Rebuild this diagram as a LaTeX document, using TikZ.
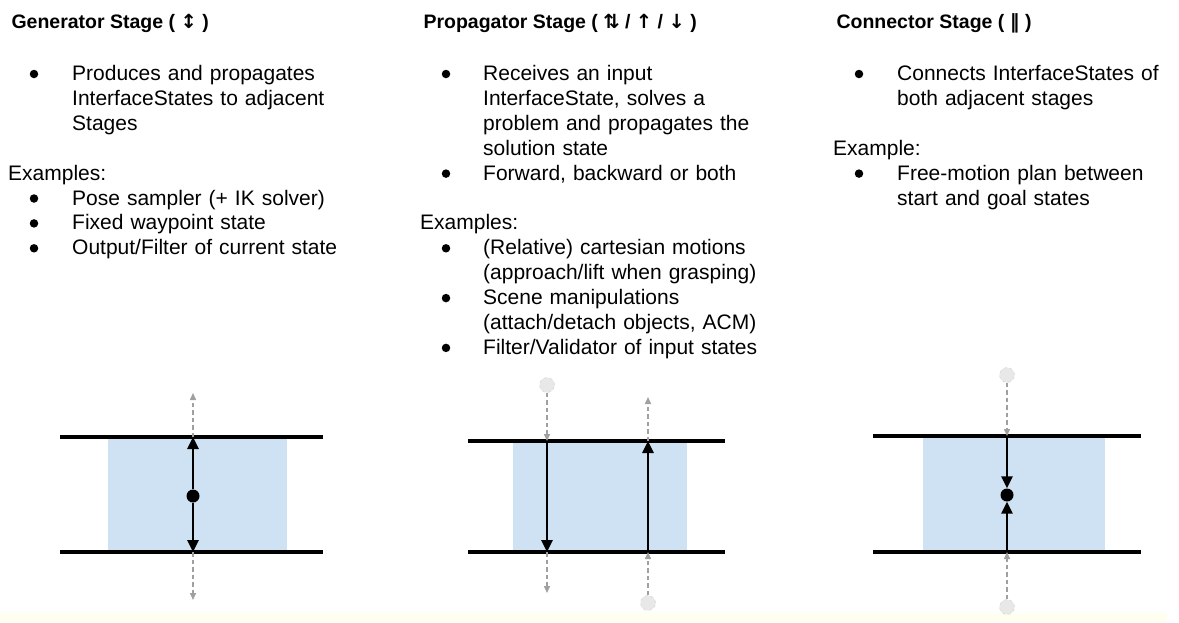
\documentclass[tikz,border=0pt]{standalone}
\usepackage{fontspec}
\setmainfont{Liberation Sans}
\newfontfamily\symfont{DejaVu Sans}
\usepackage{xcolor}
\usepackage{tikz}
\usetikzlibrary{arrows.meta,positioning}

\definecolor{stageblue}{HTML}{CFE2F3}
\definecolor{ghostgray}{HTML}{A0A0A0}
\definecolor{stripyellow}{HTML}{FFFFF0}

\tikzset{
  rail/.style={line width=3.6pt},
  flow/.style={line width=2.6pt,-{Triangle[length=12pt,width=11pt]}},
  ghost/.style={ghostgray,line width=1.5pt,dash pattern=on 4.5pt off 3pt,-{Triangle[length=7pt,width=6pt]}},
  statedot/.style={circle,fill=black,inner sep=0pt,minimum size=13pt},
  ghostdot/.style={circle,fill=black!9,draw=black!18,dashed,inner sep=0pt,minimum size=15pt},
  headline/.style={anchor=base west,font=\fontsize{19.5}{23}\selectfont\bfseries},
  body/.style={anchor=base west,align=left,text width=330pt,inner sep=0pt,font=\fontsize{21}{24.9}\selectfont},
  bul/.style={circle,fill=black,inner sep=0pt,minimum size=8.5pt},
}

\begin{document}
\begin{tikzpicture}[x=1pt,y=-1pt]
  \useasboundingbox (0,0) rectangle (1179,622);
  \fill[stripyellow] (0,613) rectangle (1167,622);

  % generator stage
  \node[headline] (gen-title) at (8,28) {Generator Stage ( {\symfont ↕} )};
  \node[bul] (gen-b1) at (34,74) {};
  \node[body] (gen-t1) at (72,80.5) {Produces and propagates\\InterfaceStates to adjacent\\Stages};
  \node[body] (gen-ex) at (8,180.1) {Examples:};
  \node[bul] (gen-b2) at (34,198.5) {};
  \node[body] (gen-t2) at (72,205) {Pose sampler (+ IK solver)};
  \node[bul] (gen-b3) at (34,223.4) {};
  \node[body] (gen-t3) at (72,229.9) {Fixed waypoint state};
  \node[bul] (gen-b4) at (34,248.3) {};
  \node[body] (gen-t4) at (72,254.8) {Output/Filter of current state};

  % propagator stage
  \node[headline] (prop-title) at (420,28) {Propagator Stage ( {\symfont ⇅} / {\symfont ↑} / {\symfont ↓} )};
  \node[bul] (prop-b1) at (446,74) {};
  \node[body] (prop-t1) at (483,80.5) {Receives an input\\InterfaceState, solves a\\problem and propagates the\\solution state};
  \node[bul] (prop-b2) at (446,173.6) {};
  \node[body] (prop-t2) at (483,180.1) {Forward, backward or both};
  \node[body] (prop-ex) at (420,229.9) {Examples:};
  \node[bul] (prop-b3) at (446,248.3) {};
  \node[body] (prop-t3) at (483,254.8) {(Relative) cartesian motions\\(approach/lift when grasping)};
  \node[bul] (prop-b4) at (446,298.1) {};
  \node[body] (prop-t4) at (483,304.6) {Scene manipulations\\(attach/detach objects, ACM)};
  \node[bul] (prop-b5) at (446,347.9) {};
  \node[body] (prop-t5) at (483,354.4) {Filter/Validator of input states};

  % connector stage
  \node[headline] (conn-title) at (833,28) {Connector Stage ( {\symfont ‖} )};
  \node[bul] (conn-b1) at (859,74) {};
  \node[body] (conn-t1) at (897,80.5) {Connects InterfaceStates of\\both adjacent stages};
  \node[body] (conn-ex) at (833,155.2) {Example:};
  \node[bul] (conn-b2) at (859,173.6) {};
  \node[body] (conn-t2) at (897,180.1) {Free-motion plan between\\start and goal states};

  % generator sketch
  \fill[stageblue] (108,437) rectangle (287,552);
  \draw[rail] (60,437) -- (323,437);
  \draw[rail] (60,552) -- (323,552);
  \node[statedot] (gen-dot) at (193,496) {};
  \coordinate (gen-top) at (193,437);
  \coordinate (gen-bot) at (193,552);
  \coordinate (gen-up) at (193,393);
  \coordinate (gen-down) at (193,600);
  \draw[flow] (gen-dot) -- (gen-top);
  \draw[flow] (gen-dot) -- (gen-bot);
  \draw[ghost] (gen-top) -- (gen-up);
  \draw[ghost] (gen-bot) -- (gen-down);

  % propagator sketch
  \fill[stageblue] (513,441) rectangle (687,552);
  \draw[rail] (468,441) -- (725,441);
  \draw[rail] (468,552) -- (725,552);
  \node[ghostdot] (prop-src) at (547,385) {};
  \node[ghostdot] (prop-dst) at (648,603) {};
  \coordinate (prop-lt) at (547,441);
  \coordinate (prop-lb) at (547,552);
  \coordinate (prop-ldown) at (547,593);
  \coordinate (prop-rt) at (648,441);
  \coordinate (prop-rb) at (648,552);
  \coordinate (prop-rup) at (648,397);
  \draw[ghost] (prop-src) -- (prop-lt);
  \draw[flow] (prop-lt) -- (prop-lb);
  \draw[ghost] (prop-lb) -- (prop-ldown);
  \draw[ghost] (prop-dst) -- (prop-rb);
  \draw[flow] (prop-rb) -- (prop-rt);
  \draw[ghost] (prop-rt) -- (prop-rup);

  % connector sketch
  \fill[stageblue] (923,436) rectangle (1105,552);
  \draw[rail] (873,436) -- (1141,436);
  \draw[rail] (873,552) -- (1141,552);
  \node[statedot] (conn-dot) at (1007,495) {};
  \node[ghostdot] (conn-src) at (1007,375) {};
  \node[ghostdot] (conn-dst) at (1007,607) {};
  \coordinate (conn-top) at (1007,436);
  \coordinate (conn-bot) at (1007,552);
  \draw[ghost] (conn-src) -- (conn-top);
  \draw[ghost] (conn-dst) -- (conn-bot);
  \draw[flow] (conn-top) -- (conn-dot);
  \draw[flow] (conn-bot) -- (conn-dot);
\end{tikzpicture}
\end{document}
